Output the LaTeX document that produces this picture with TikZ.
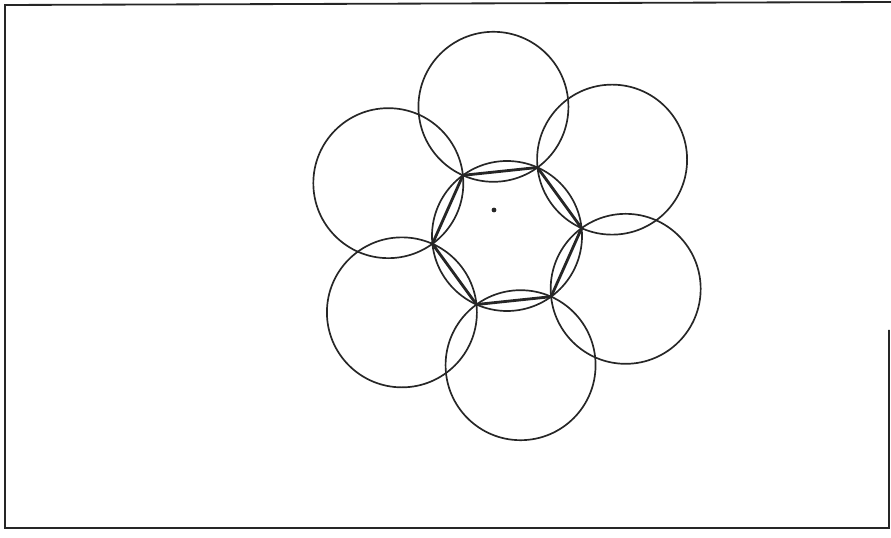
\documentclass[tikz,border=0pt]{standalone}
\usepackage{xcolor}
\usepackage{tikz}
\usetikzlibrary{positioning}
\colorlet{ink}{black!85}
\tikzstyle{frame} = [draw=ink, line width=1.3pt]
\tikzstyle{ring} = [draw=ink, line width=1.2pt]
\tikzstyle{chord} = [draw=ink, line width=2pt]
\tikzstyle{spot} = [circle, fill=ink, inner sep=0pt, minimum size=1.2mm]

\begin{document}
\begin{tikzpicture}
        \useasboundingbox (0,0) rectangle (22.275,13.45);
        % Frame
        \draw [frame] (22.225,5.2) -- (22.225,0.25) -- (0.125,0.25) -- (0.125,13.325) -- (22.275,13.4);

        % Centre and ring points
        \coordinate (c) at (12.675,7.55);
        \path (c) ++(66:1.875) coordinate (h1);
        \path (c) ++(6:1.875) coordinate (h2);
        \path (c) ++(-54:1.875) coordinate (h3);
        \path (c) ++(-114:1.875) coordinate (h4);
        \path (c) ++(-174:1.875) coordinate (h5);
        \path (c) ++(126:1.875) coordinate (h6);

        % Inner circle
        \draw [ring] (c) circle (1.875);

        % Outer circles
        \draw [ring] (c) ++(96:3.2476) circle (1.875);
        \draw [ring] (c) ++(36:3.2476) circle (1.875);
        \draw [ring] (c) ++(-24:3.2476) circle (1.875);
        \draw [ring] (c) ++(-84:3.2476) circle (1.875);
        \draw [ring] (c) ++(-144:3.2476) circle (1.875);
        \draw [ring] (c) ++(156:3.2476) circle (1.875);

        % Chords
        \draw [chord] (h1) -- (h2);
        \draw [chord] (h2) -- (h3);
        \draw [chord] (h3) -- (h4);
        \draw [chord] (h4) -- (h5);
        \draw [chord] (h5) -- (h6);
        \draw [chord] (h6) -- (h1);

        % Dot
        \node (dot) [spot] at (12.35,8.2) {};
    \end{tikzpicture}
\end{document}
